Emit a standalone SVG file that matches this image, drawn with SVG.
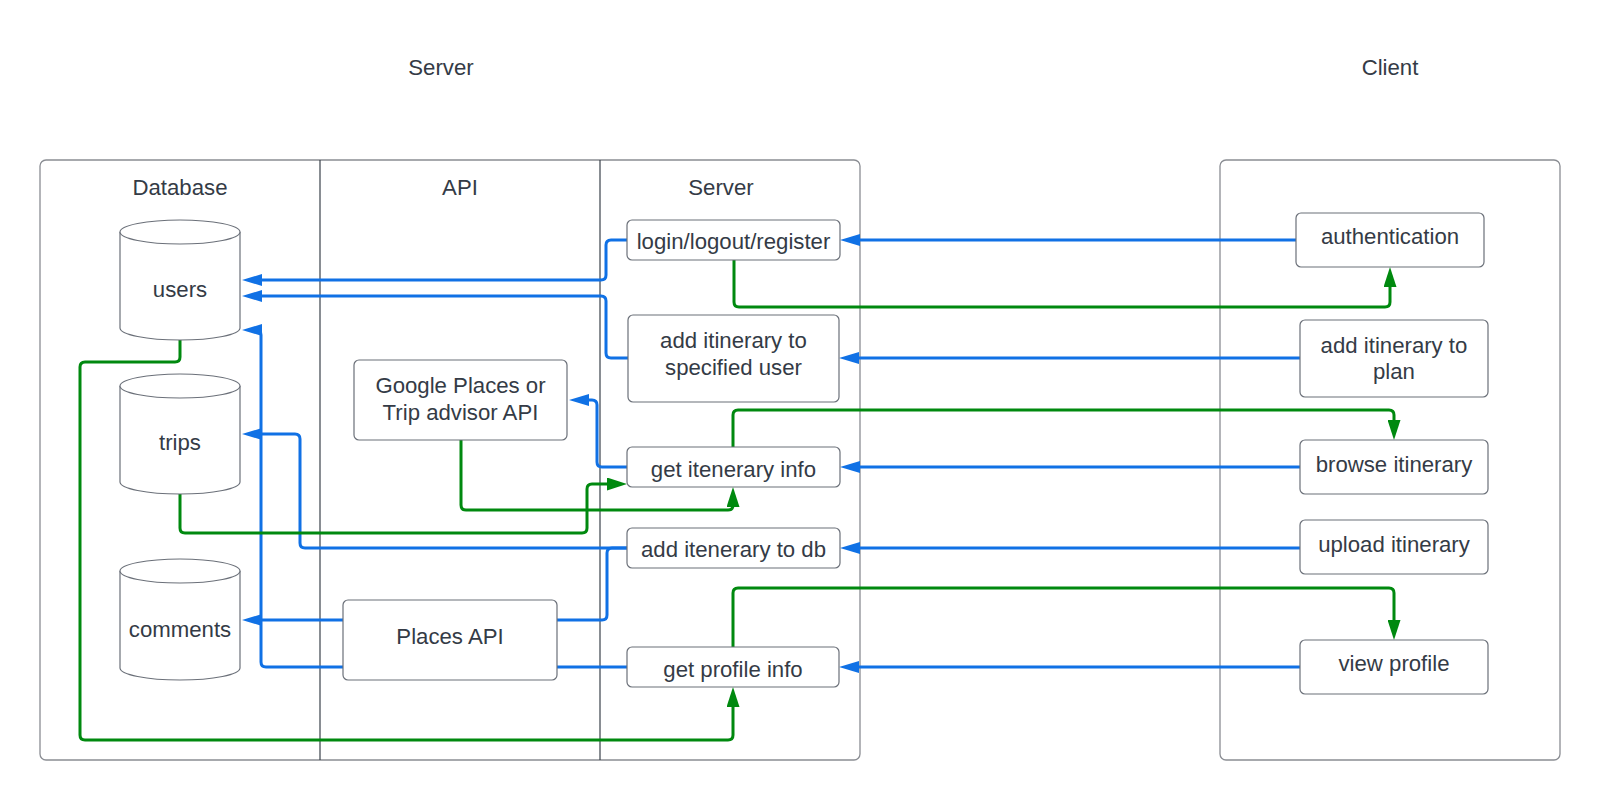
<svg xmlns="http://www.w3.org/2000/svg" width="1600" height="800" viewBox="0 0 1600 800">
<style>
text{font-family:"Liberation Sans",Arial,sans-serif;font-size:22.2px;fill:#343b46;text-anchor:middle}
.box{fill:#fff;stroke:#6b7079;stroke-width:1.2}
.cont{fill:#fff;stroke:#8a8d93;stroke-width:1.3}
.div{stroke:#3a414a;stroke-width:1.2}
.b{fill:none;stroke:#1071e5;stroke-width:3;marker-end:url(#ab)}
.g{fill:none;stroke:#00890f;stroke-width:3;marker-end:url(#ag)}
</style>
<defs>
<marker id="ab" markerUnits="userSpaceOnUse" markerWidth="20" markerHeight="12" refX="10" refY="6" orient="auto"><path d="M0,0 L20,6 L0,12 z" fill="#1071e5"/></marker>
<marker id="ag" markerUnits="userSpaceOnUse" markerWidth="20" markerHeight="13" refX="10" refY="6.5" orient="auto"><path d="M0,0 L20,6.5 L0,13 z" fill="#00890f"/></marker>
</defs>
<rect width="1600" height="800" fill="#fff"/>
<g id="titles">
<text x="441" y="75">Server</text>
<text x="1390" y="75">Client</text>
</g>
<g id="server-container">
<rect class="cont" x="40" y="160" width="820" height="600" rx="6"/>
<line class="div" x1="320" y1="160" x2="320" y2="760"/>
<line class="div" x1="600" y1="160" x2="600" y2="760"/>
<text x="180" y="195">Database</text>
<text x="460" y="195">API</text>
<text x="721" y="195">Server</text>
</g>
<g id="client-container">
<rect class="cont" x="1220" y="160" width="340" height="600" rx="6"/>
</g>
<g id="connectors">
<path class="b" d="M1296,240 H850"/>
<path class="b" d="M1300,358 H849"/>
<path class="b" d="M1300,467 H850"/>
<path class="b" d="M1300,548 H850"/>
<path class="b" d="M1300,667 H849"/>
<path class="b" d="M627,240 H611 Q606,240 606,245 V275 Q606,280 601,280 H252"/>
<path class="b" d="M628,358 H611 Q606,358 606,353 V301 Q606,296 601,296 H252"/>
<path class="b" d="M627,467 H602 Q597,467 597,462 V405 Q597,400 592,400 H579"/>
<path class="b" d="M627,548 H305 Q300,548 300,543 V439 Q300,434 295,434 H252"/>
<path class="b" d="M627,548 H612 Q607,548 607,553 V615 Q607,620 602,620 H252"/>
<path class="b" d="M627,667 H266 Q261,667 261,662 V335 Q261,330 256,330 H252"/>
<path class="g" d="M734,260 V302 Q734,307 739,307 H1385 Q1390,307 1390,302 V277"/>
<path class="g" d="M733,447 V415 Q733,410 738,410 H1389 Q1394,410 1394,415 V430"/>
<path class="g" d="M733,647 V593 Q733,588 738,588 H1389 Q1394,588 1394,593 V630"/>
<path class="g" d="M180,340 V357 Q180,362 175,362 H85 Q80,362 80,367 V735 Q80,740 85,740 H728 Q733,740 733,735 V697"/>
<path class="g" d="M180,494 V528 Q180,533 185,533 H582 Q587,533 587,528 V489 Q587,484 592,484 H617"/>
<path class="g" d="M461,440 V505 Q461,510 466,510 H728 Q733,510 733,505 V497"/>
</g>
<g id="users">
<path class="box" d="M120,232 A60,12 0 0 1 240,232 V328 A60,12 0 0 1 120,328 Z"/>
<path class="box" fill="none" d="M120,232 A60,12 0 0 0 240,232"/>
<text x="180" y="297">users</text>
</g>
<g id="trips">
<path class="box" d="M120,386 A60,12 0 0 1 240,386 V482 A60,12 0 0 1 120,482 Z"/>
<path class="box" fill="none" d="M120,386 A60,12 0 0 0 240,386"/>
<text x="180" y="450">trips</text>
</g>
<g id="comments">
<path class="box" d="M120,571 A60,12 0 0 1 240,571 V668 A60,12 0 0 1 120,668 Z"/>
<path class="box" fill="none" d="M120,571 A60,12 0 0 0 240,571"/>
<text x="180" y="637">comments</text>
</g>
<g id="google-places">
<rect class="box" x="354" y="360" width="213" height="80" rx="5"/>
<text x="460.5" y="393">Google Places or</text>
<text x="460.5" y="420">Trip advisor API</text>
</g>
<g id="places-api">
<rect class="box" x="343" y="600" width="214" height="80" rx="5"/>
<text x="450" y="644">Places API</text>
</g>
<g id="login">
<rect class="box" x="627" y="220" width="213" height="40" rx="5"/>
<text x="733.5" y="249">login/logout/register</text>
</g>
<g id="add-itinerary-user">
<rect class="box" x="628" y="315" width="211" height="87" rx="5"/>
<text x="733.5" y="348">add itinerary to</text>
<text x="733.5" y="375">specified user</text>
</g>
<g id="get-itinerary-info">
<rect class="box" x="627" y="447" width="213" height="40" rx="5"/>
<text x="733.5" y="477">get itenerary info</text>
</g>
<g id="add-itinerary-db">
<rect class="box" x="627" y="528" width="213" height="40" rx="5"/>
<text x="733.5" y="557">add itenerary to db</text>
</g>
<g id="get-profile-info">
<rect class="box" x="627" y="647" width="212" height="40" rx="5"/>
<text x="733" y="677">get profile info</text>
</g>
<g id="authentication">
<rect class="box" x="1296" y="213" width="188" height="54" rx="5"/>
<text x="1390" y="244">authentication</text>
</g>
<g id="add-itinerary-plan">
<rect class="box" x="1300" y="320" width="188" height="77" rx="5"/>
<text x="1394" y="353">add itinerary to</text>
<text x="1394" y="379">plan</text>
</g>
<g id="browse-itinerary">
<rect class="box" x="1300" y="440" width="188" height="54" rx="5"/>
<text x="1394" y="472">browse itinerary</text>
</g>
<g id="upload-itinerary">
<rect class="box" x="1300" y="520" width="188" height="54" rx="5"/>
<text x="1394" y="552">upload itinerary</text>
</g>
<g id="view-profile">
<rect class="box" x="1300" y="640" width="188" height="54" rx="5"/>
<text x="1394" y="671">view profile</text>
</g>
</svg>
